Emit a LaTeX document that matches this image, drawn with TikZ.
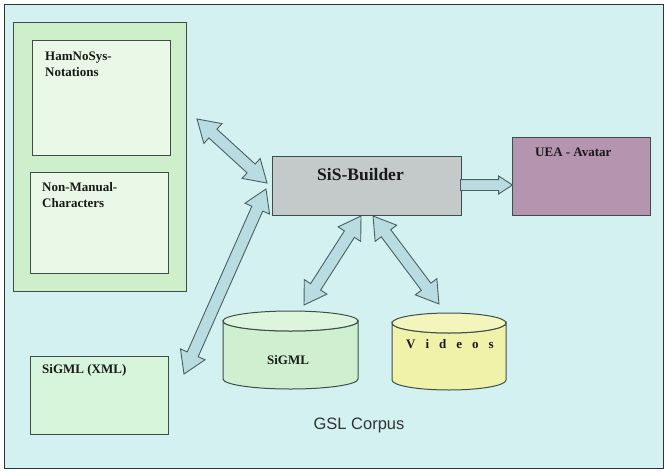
\documentclass[tikz,border=0pt]{standalone}
\usepackage{fontspec}
\setmainfont{Liberation Serif}
\newfontfamily\sansfont{Liberation Sans}
\usetikzlibrary{shapes.arrows,calc}

\definecolor{bgcyan}{HTML}{D3F1F1}
\definecolor{outline}{HTML}{3F4D4A}
\definecolor{groupgreen}{HTML}{CDEFC9}
\definecolor{panelgreen}{HTML}{EAF8E7}
\definecolor{xmlgreen}{HTML}{D6F5DA}
\definecolor{cylgreen}{HTML}{CEF0D0}
\definecolor{cyltop}{HTML}{DDF5DD}
\definecolor{cylyellow}{HTML}{EFF2A8}
\definecolor{cylyellowtop}{HTML}{F3F5BC}
\definecolor{buildergray}{HTML}{C4CACA}
\definecolor{avatarmauve}{HTML}{B594AF}
\definecolor{arrowfill}{HTML}{B9DCE2}
\definecolor{arrowline}{HTML}{4D5E5E}

\tikzset{
  box/.style={draw=outline, line width=1.1pt, inner sep=0pt, anchor=north west},
  lbl/.style={font=\bfseries\fontsize{13}{16}\selectfont, inner sep=0pt, align=left, text=black!90},
  dblarrow/.style={double arrow, draw=arrowline, fill=arrowfill, line width=0.9pt,
    inner xsep=0pt, inner ysep=5.5pt, double arrow head extend=7.5pt,
    double arrow tip angle=64},
  sglarrow/.style={single arrow, draw=arrowline, fill=arrowfill, line width=0.9pt,
    inner xsep=0pt, inner ysep=5pt, single arrow head extend=3.5pt,
    single arrow tip angle=66},
}

% double block arrow between two named points
\newcommand\blockarrow[3]{%
  \path let \p1=($(#3)-(#2)$), \n1={atan2(\y1,\x1)}, \n2={veclen(\x1,\y1)} in
    node[#1, rotate=\n1, minimum height=\n2] at ($(#2)!0.5!(#3)$) {};}

\begin{document}
\begin{tikzpicture}[x=1pt, y=-1pt]
  % canvas and frame
  \fill[white] (0,0) rectangle (666,471);
  \useasboundingbox (0,0) rectangle (666,471);
  \draw[fill=bgcyan, draw=black!80, line width=1pt] (4,4) rectangle (663,468);

  % notation group
  \node[box, fill=groupgreen, minimum width=173pt, minimum height=269pt] (group) at (13,22) {};
  \node[box, fill=panelgreen, minimum width=138pt, minimum height=115pt] (ham) at (32,40) {};
  \node[lbl, anchor=north west] (hamlbl) at (45,52) {HamNoSys-\\Notations};
  \node[box, fill=panelgreen, minimum width=138pt, minimum height=101pt] (nmc) at (30,172) {};
  \node[lbl, anchor=north west] (nmclbl) at (42,182) {Non-Manual-\\Characters};

  % SiGML (XML) file
  \node[box, fill=xmlgreen, minimum width=138pt, minimum height=78pt] (xml) at (30,356) {};
  \node[lbl, anchor=north west] (xmllbl) at (42,364) {SiGML (XML)};

  % builder and avatar
  \node[box, fill=buildergray, minimum width=189pt, minimum height=59pt] (builder) at (272,156) {};
  \node[lbl, font=\bfseries\fontsize{17.5}{20}\selectfont, anchor=base] (builderlbl) at (360.5,180) {SiS-Builder};
  \node[box, fill=avatarmauve, minimum width=138pt, minimum height=78pt] (avatar) at (512,137) {};
  \node[lbl, anchor=north west] (avatarlbl) at (535,148) {UEA - Avatar};

  % corpus cylinders
  \filldraw[fill=cylgreen, draw=outline, line width=1pt]
    (223,321) -- (223,379) arc[start angle=180, end angle=360, x radius=67.5pt, y radius=10pt]
    -- (358,321) arc[start angle=0, end angle=-180, x radius=67.5pt, y radius=10pt] -- cycle;
  \filldraw[fill=cyltop, draw=outline, line width=1pt] (290.5,321) ellipse[x radius=67.5pt, y radius=10pt];
  \node[lbl, anchor=base] (sigmllbl) at (288,364) {SiGML};

  \filldraw[fill=cylyellow, draw=outline, line width=1pt]
    (392,323) -- (392,380) arc[start angle=180, end angle=360, x radius=57pt, y radius=10pt]
    -- (506,323) arc[start angle=0, end angle=-180, x radius=57pt, y radius=10pt] -- cycle;
  \filldraw[fill=cylyellowtop, draw=outline, line width=1pt] (449,323) ellipse[x radius=57pt, y radius=10pt];
  \node[lbl, anchor=base] (videoslbl) at (450,348) {\spaceskip=10pt V i d e o s};

  \node[font=\sansfont\fontsize{16.5}{19}\selectfont, text=black!80, anchor=base] (corpus) at (359,429) {GSL Corpus};

  % arrow end points
  \coordinate (nA) at (197,119);
  \coordinate (nB) at (267,183);
  \coordinate (xA) at (266,189);
  \coordinate (xB) at (184,374);
  \coordinate (sA) at (361,216);
  \coordinate (sB) at (304,305);
  \coordinate (vA) at (373,216);
  \coordinate (vB) at (439,304);
  \coordinate (bR) at (460,185);
  \coordinate (aL) at (512,185);

  \blockarrow{dblarrow}{nA}{nB}
  \blockarrow{dblarrow}{xB}{xA}
  \blockarrow{dblarrow}{sB}{sA}
  \blockarrow{dblarrow}{vA}{vB}
  % builder feeds the avatar
  \path let \p1=($(aL)-(bR)$), \n2={veclen(\x1,\y1)} in
    node[sglarrow, anchor=tail, minimum height=\n2] (feed) at (bR) {};
\end{tikzpicture}
\end{document}
